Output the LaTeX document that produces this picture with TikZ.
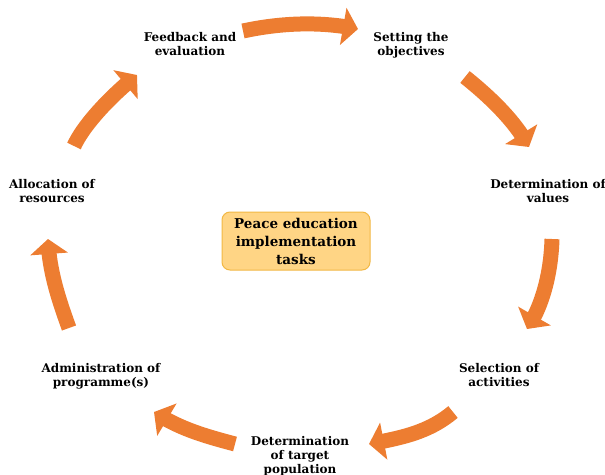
\documentclass[tikz,border=0pt]{standalone}
\usepackage{fontspec}
\setmainfont{DejaVu Serif}
\usetikzlibrary{arrows.meta,bending}
\definecolor{arr}{HTML}{ED7D31}
\definecolor{boxfill}{HTML}{FFD585}
\definecolor{boxline}{HTML}{F2B844}
\begin{document}
\begin{tikzpicture}[x=1pt,y=-1pt,
  lbl/.style={font=\fontsize{12}{14}\selectfont\bfseries, align=center, inner sep=0pt},
  cyc/.style={draw=arr, line width=15pt, -{Triangle[width=37pt,length=15pt,flex]}},
  centerbox/.style={draw=boxline, line width=1pt, fill=boxfill, rounded corners=8pt,
    minimum width=148pt, minimum height=58pt, align=center,
    font=\fontsize{13.5}{18}\selectfont\bfseries}
]
\useasboundingbox (0,0) rectangle (605,474);

\node[centerbox] (center) at (296,241) {Peace education\\implementation\\tasks};

\node[lbl] (feedback) at (190,44) {Feedback and\\evaluation};
\node[lbl] (setting) at (411,45) {Setting the\\objectives};
\node[lbl] (values) at (548,191) {Determination of\\values};
\node[lbl] (select) at (499,375) {Selection of\\activities};
\node[lbl] (target) at (300,456) {Determination\\of target\\population};
\node[lbl] (admin) at (101,376) {Administration of\\programme(s)};
\node[lbl] (alloc) at (52,191) {Allocation of\\resources};

% arrow end points
\coordinate (a1s) at (243,31);  \coordinate (a1e) at (358,29);
\coordinate (a2s) at (465,77);  \coordinate (a2e) at (529,147);
\coordinate (a3s) at (552,239); \coordinate (a3e) at (527,329);
\coordinate (a4s) at (453,412); \coordinate (a4e) at (369,444);
\coordinate (a5s) at (235,444); \coordinate (a5e) at (154,412);
\coordinate (a6s) at (69,328);  \coordinate (a6e) at (48,239);
\coordinate (a7s) at (74,146);  \coordinate (a7e) at (137,75);

\draw[cyc] (a1s) .. controls (280,23) and (320,21) .. (a1e);
\draw[cyc] (a2s) .. controls (490,97) and (515,121) .. (a2e);
\draw[cyc] (a3s) .. controls (551,272) and (543,305) .. (a3e);
\draw[cyc] (a4s) .. controls (428,433) and (400,438) .. (a4e);
\draw[cyc] (a5s) .. controls (205,436) and (180,429) .. (a5e);
\draw[cyc] (a6s) .. controls (60,303) and (49,272) .. (a6e);
\draw[cyc] (a7s) .. controls (84,124) and (112,95) .. (a7e);
\end{tikzpicture}
\end{document}
